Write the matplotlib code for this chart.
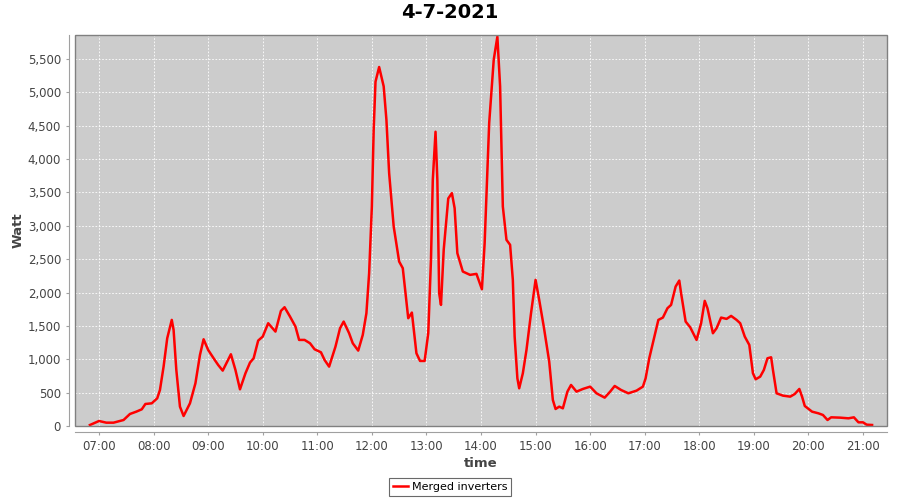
import matplotlib
matplotlib.use("Agg")
import matplotlib.pyplot as plt
from matplotlib.patches import Rectangle
from matplotlib.ticker import FuncFormatter, MultipleLocator

# --- data (time of day, watt) ---
times = [
    "06:50", "07:00", "07:08", "07:16", "07:23", "07:27", "07:34", "07:41", "07:47", "07:51",
    "07:58", "08:04", "08:07", "08:11", "08:15", "08:20", "08:22", "08:25", "08:29", "08:33",
    "08:40", "08:46", "08:51", "08:55", "09:00", "09:06", "09:11", "09:16", "09:20", "09:25",
    "09:30", "09:35", "09:41", "09:46", "09:50", "09:55", "10:00", "10:06", "10:14", "10:20",
    "10:24", "10:30", "10:36", "10:40", "10:46", "10:52", "10:57", "11:04", "11:08", "11:13",
    "11:20", "11:25", "11:29", "11:35", "11:39", "11:45", "11:50", "11:54", "11:57", "12:00",
    "12:02", "12:04", "12:08", "12:13", "12:16", "12:19", "12:24", "12:30", "12:34", "12:40",
    "12:44", "12:49", "12:53", "12:58", "13:02", "13:05", "13:07", "13:10", "13:12", "13:14",
    "13:16", "13:19", "13:24", "13:28", "13:31", "13:34", "13:40", "13:48", "13:55", "14:01",
    "14:04", "14:09", "14:14", "14:18", "14:21", "14:24", "14:28", "14:32", "14:35", "14:37",
    "14:40", "14:42", "14:46", "14:50", "14:55", "15:00", "15:04", "15:09", "15:15", "15:19",
    "15:22", "15:26", "15:30", "15:35", "15:39", "15:45", "15:52", "16:00", "16:07", "16:16",
    "16:22", "16:27", "16:34", "16:42", "16:51", "16:58", "17:01", "17:05", "17:10", "17:15",
    "17:20", "17:25", "17:29", "17:34", "17:38", "17:40", "17:45", "17:50", "17:57", "18:02",
    "18:06", "18:09", "18:15", "18:19", "18:24", "18:30", "18:35", "18:41", "18:45", "18:50",
    "18:55", "18:59", "19:02", "19:07", "19:11", "19:15", "19:19", "19:21", "19:25", "19:32",
    "19:40", "19:45", "19:50", "19:53", "19:56", "20:04", "20:11", "20:16", "20:21", "20:25",
    "20:35", "20:44", "20:50", "20:55", "21:00", "21:04", "21:10",
]
watt = [
    15, 75, 50, 50, 75, 90, 180, 215, 250, 330,
    340, 415, 540, 890, 1315, 1590, 1440, 840, 290, 150,
    340, 640, 1065, 1300, 1140, 1015, 915, 830, 940, 1075,
    840, 550, 790, 950, 1015, 1280, 1340, 1540, 1415, 1725,
    1780, 1640, 1490, 1290, 1290, 1240, 1150, 1105, 990, 890,
    1190, 1465, 1565, 1390, 1240, 1130, 1365, 1690, 2290, 3290,
    4440, 5160, 5380, 5090, 4590, 3790, 2990, 2465, 2365, 1615,
    1700, 1090, 975, 975, 1390, 2490, 3690, 4410, 3690, 1990,
    1815, 2640, 3410, 3490, 3265, 2590, 2315, 2265, 2280, 2050,
    2740, 4540, 5490, 5835, 5090, 3290, 2790, 2715, 2190, 1340,
    715, 565, 790, 1140, 1690, 2190, 1890, 1490, 965, 390,
    255, 290, 265, 515, 615, 515, 555, 590, 490, 425,
    515, 600, 540, 490, 530, 590, 715, 1015, 1300, 1590,
    1625, 1765, 1815, 2090, 2180, 1990, 1565, 1480, 1290, 1540,
    1875, 1765, 1390, 1465, 1625, 1605, 1650, 1590, 1540, 1340,
    1215, 790, 700, 740, 840, 1015, 1030, 840, 490, 455,
    440, 480, 555, 440, 300, 215, 190, 165, 90, 130,
    125, 115, 130, 55, 55, 20, 15,
]
hour_ticks = list(range(7, 22))

title = "4-7-2021"
series_name = "Merged inverters"

# uur als decimaal getal
x = [int(t[:2]) + int(t[3:]) / 60 for t in times]

plt.rcParams['font.family'] = ['DejaVu Sans']
fig = plt.figure(figsize=(9, 5), dpi=100)
ax = fig.add_axes([75 / 900, 1 - 426 / 500, 812 / 900, 391 / 500])
ax.set_facecolor("#cccccc")

ax.plot(x, watt, color="#ff0000", linewidth=1.8, solid_joinstyle="round",
        label=series_name)

ax.set_xlim(6.56, 21.44)
ax.set_ylim(0, 5860)
ax.set_xticks(hour_ticks)
ax.set_xticklabels([f"{h:02d}:00" for h in hour_ticks])
ax.yaxis.set_major_locator(MultipleLocator(500))
ax.yaxis.set_major_formatter(FuncFormatter(lambda v, p: f"{int(v):,}"))

ax.grid(True, color="white", linestyle=(0, (2, 2)), linewidth=0.6)
ax.set_axisbelow(True)

# assen iets los van het plotvlak, zoals in het origineel
ax.spines['left'].set_position(('outward', 4))
ax.spines['bottom'].set_position(('outward', 4))
ax.spines['top'].set_visible(False)
ax.spines['right'].set_visible(False)
ax.spines['left'].set_color("#a0a0a0")
ax.spines['bottom'].set_color("#a0a0a0")
ax.add_patch(Rectangle((0, 0), 1, 1, transform=ax.transAxes, fill=False,
                       edgecolor="#808080", linewidth=1.0, clip_on=False, zorder=5))
ax.tick_params(colors="#a0a0a0", labelcolor="#444444", labelsize=8.5, length=2.5)

ax.set_xlabel("time", fontsize=9.5, fontweight="bold", color="#444444", labelpad=3)
ax.set_ylabel("Watt", fontsize=9.5, fontweight="bold", color="#444444", labelpad=2)
fig.suptitle(title, fontsize=14, fontweight="bold", y=0.995)

leg = fig.legend(loc="center", bbox_to_anchor=(0.5, 0.026), ncol=1,
                 fontsize=8, frameon=True, fancybox=False, handlelength=1.4,
                 handletextpad=0.3, borderpad=0.35)
leg.get_frame().set_edgecolor("#444444")
leg.get_frame().set_linewidth(0.8)

plt.savefig("out.png", dpi=100)
